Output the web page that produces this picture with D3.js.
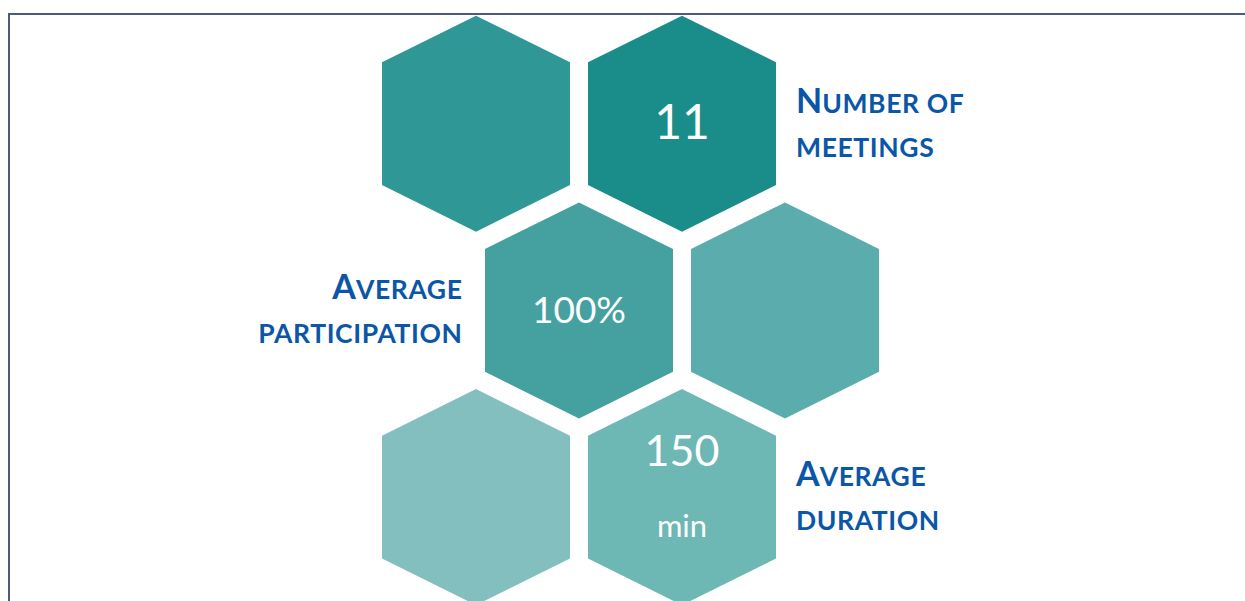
<!DOCTYPE html>
<html><head><meta charset="utf-8">
<script src="https://cdn.jsdelivr.net/npm/d3@7"></script>
<style>html,body{margin:0;padding:0;background:#fff;overflow:hidden}</style>
</head><body><svg id="c" width="1245" height="601"></svg>
<script>
// Data
const hexRows   = [0, 0, 1, 1, 2, 2];
const hexCols   = [0, 1, 0, 1, 0, 1];
const hexColors = ["#2f9795", "#1a8c8a", "#45a1a0", "#5aadac", "#83bfbf", "#6db7b5"];
const hexValues = ["", "11", "100%", "", "", "150"];
const hexUnits  = ["", "", "", "", "", "min"];
const labelLines = [
  ["Number of", "meetings"],
  ["Average", "participation"],
  ["Average", "duration"]
];
const labelHex = [1, 2, 5];   // which hexagon each label sits next to
const labelSide = ["right", "left", "right"];

const svg = d3.select("#c");
const font = "Lato, 'Open Sans', sans-serif";

// frame
svg.append("rect").attr("x", 9).attr("y", 14).attr("width", 1300).attr("height", 700)
  .attr("fill", "none").attr("stroke", "#4b5b78").attr("stroke-width", 2);

const x = d3.scaleLinear().domain([0, 1]).range([476, 682]);
const y = d3.scaleLinear().domain([0, 1]).range([123.7, 310.4]);
const cx = i => x(hexCols[i] + (hexRows[i] % 2) * 0.5);
const cy = i => y(hexRows[i]);

const hw = 94, hs = 61.4, ht = 108;
const hexPath = d3.line()([[0,-ht],[hw,-hs],[hw,hs],[0,ht],[-hw,hs],[-hw,-hs]]) + "Z";

const cells = svg.selectAll("g.hex").data(hexColors.map((c, i) => i)).join("g")
  .attr("class", "hex")
  .attr("transform", i => `translate(${cx(i)},${cy(i)})`);
cells.append("path").attr("d", hexPath).attr("fill", i => hexColors[i]);

cells.filter(i => hexValues[i] && !hexUnits[i]).append("text")
  .attr("text-anchor", "middle").attr("fill", "#fff")
  .attr("font-family", font)
  .attr("font-size", i => hexValues[i].length > 2 ? 37 : 48)
  .attr("y", i => hexValues[i].length > 2 ? 12.5 : 14.8)
  .text(i => hexValues[i]);

const withUnit = cells.filter(i => hexUnits[i]);
withUnit.append("text").attr("text-anchor", "middle").attr("fill", "#fff")
  .attr("font-family", font).attr("font-size", 43).attr("y", -31)
  .text(i => hexValues[i]);
withUnit.append("text").attr("text-anchor", "middle").attr("fill", "#fff")
  .attr("font-family", font).attr("font-size", 31).attr("y", 40)
  .text(i => hexUnits[i]);

// labels (small caps: first letter big)
labelLines.forEach((lines, k) => {
  const i = labelHex[k];
  const right = labelSide[k] === "right";
  const tx = right ? cx(i) + 114 : cx(i) - 116.5;
  const base = cy(i) - 11;
  const t = svg.append("text")
    .attr("font-family", font).attr("font-weight", "bold").attr("fill", "#0b56a6")
    .attr("text-anchor", right ? "start" : "end");
  lines.forEach((line, j) => {
    const up = line.toUpperCase();
    if (j === 0) {
      t.append("tspan").attr("x", tx).attr("y", base).attr("font-size", 34).text(up[0]);
      t.append("tspan").attr("font-size", 26.5).attr("letter-spacing", 0.6).text(up.slice(1));
    } else {
      t.append("tspan").attr("x", tx).attr("y", base + 44).attr("font-size", 26.5)
        .attr("letter-spacing", 0.6).text(up);
    }
  });
});
</script></body></html>
